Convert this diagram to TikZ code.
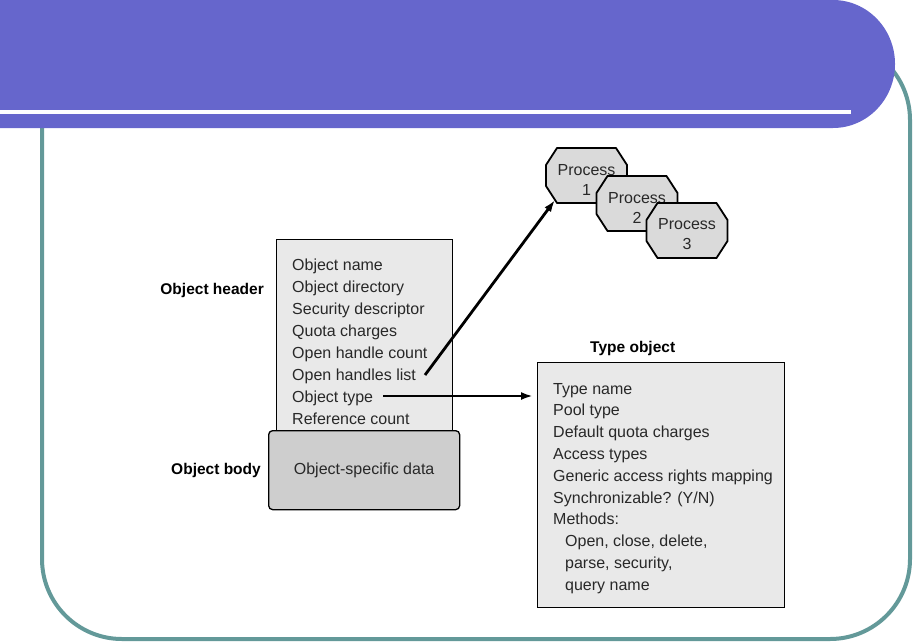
\documentclass[tikz,border=0pt]{standalone}
\usepackage{fontspec}
\setmainfont{Liberation Sans}
\usetikzlibrary{positioning,arrows.meta}
\definecolor{bannerblue}{RGB}{102,102,204}
\definecolor{frameteal}{RGB}{99,153,153}
\definecolor{hdrgray}{RGB}{233,233,233}
\definecolor{bodygray}{RGB}{206,206,206}
\definecolor{procgray}{RGB}{218,218,218}
\definecolor{inkgray}{RGB}{40,40,40}
\tikzset{
  fieldbox/.style={draw=black, line width=1.3pt, fill=hdrgray, inner sep=0pt},
  fieldlist/.style={anchor=north west, inner sep=0pt, align=left, text=inkgray},
  sidelabel/.style={inner sep=0pt, font=\fontsize{15.5}{18}\selectfont\bfseries},
  octo/.style={draw=black, line width=1.8pt, fill=procgray, line join=round},
  proctext/.style={inner sep=0pt, align=center, text=inkgray,
    font=\fontsize{16}{20}\selectfont},
  ptr/.style={line width=2.8pt, -{Latex[length=12pt,width=8pt]}}
}
\begin{document}
\begin{tikzpicture}[x=1pt, y=-1pt]
\useasboundingbox (0,0) rectangle (915,643);

% slide frame and title bar
\draw[frameteal, line width=4pt, rounded corners=80pt] (42,40) rectangle (910,639);
\fill[bannerblue] (0,0) -- (833,0)
  arc[start angle=-90, end angle=90, x radius=62, y radius=64] -- (0,128) -- cycle;
\draw[white, line width=3.5pt] (0,112) -- (851,112);

% processes holding handles
\foreach \n/\x/\y in {1/586.5/175.5, 2/637/203.5, 3/687/230.5}{
  \filldraw[octo] (\x-29.5,\y-27.5) -- (\x+29.5,\y-27.5) -- (\x+40.5,\y-10.5)
    -- (\x+40.5,\y+10.5) -- (\x+29.5,\y+27.5) -- (\x-29.5,\y+27.5)
    -- (\x-40.5,\y+10.5) -- (\x-40.5,\y-10.5) -- cycle;
  \node[proctext] (p\n) at (\x,\y+4) {Process\\\n};
}

% object header and body
\node[fieldbox, anchor=north west, minimum width=176pt, minimum height=191pt] (hdr) at (276,239) {};
\node[fieldlist, font=\fontsize{16}{22}\selectfont] (hdrtext) at ([shift={(16,19.8)}]hdr.north west)
  {Object name\\Object directory\\Security descriptor\\Quota charges\\
   Open handle count\\Open handles list\\Object type\\Reference count};
\node[fieldbox, fill=bodygray, rounded corners=4pt, anchor=north west,
  minimum width=191pt, minimum height=79pt, text=inkgray,
  font=\fontsize{16}{20}\selectfont] (body) at (268,430) {Object-specific data};
\node[sidelabel, anchor=east] (hdrlbl) at ([shift={(-12,51)}]hdr.north west) {Object header};
\node[sidelabel, left=7pt of body] (bodylbl) {Object body};

% type object
\node[fieldbox, anchor=north west, minimum width=247pt, minimum height=245pt] (tbox) at (537,362) {};
\node[fieldlist, font=\fontsize{16}{21.8}\selectfont] (tboxtext) at ([shift={(16,20.8)}]tbox.north west)
  {Type name\\Pool type\\Default quota charges\\Access types\\
   Generic access rights mapping\\Synchronizable? (Y/N)\\Methods:\\
   \hspace*{12pt}Open, close, delete,\\\hspace*{12pt}parse, security,\\\hspace*{12pt}query name};
\node[sidelabel, above right=6pt and 53pt of tbox.north west] (tboxlbl) {Type object};

% pointers
\coordinate (hlist) at (425,375);
\coordinate (otype) at (383,396);
\draw[ptr] (hlist) -- ([shift={(-31.5,20.5)}]p1.center);
\draw[ptr, shorten >=4pt] (otype) -- (otype -| tbox.west);
\end{tikzpicture}
\end{document}
